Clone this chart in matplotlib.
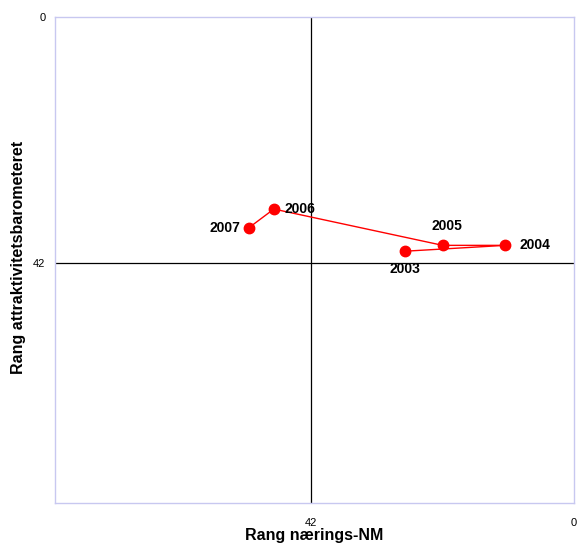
import matplotlib
matplotlib.use('Agg')
import matplotlib.pyplot as plt

plt.rcParams['font.family'] = ['Liberation Sans', 'DejaVu Sans']

years = ['2003', '2004', '2005', '2006', '2007']
rank_nm = [27, 11, 21, 48, 52]               # x: Rang nærings-NM
rank_attr = [40, 39, 39, 32.8, 36]           # y: Rang attraktivitetsbarometeret
# label offsets in points (dx, dy) and alignment
label_pos = {
    '2003': ((0, -13), 'center'),
    '2004': ((10, 0), 'left'),
    '2005': ((3, 14), 'center'),
    '2006': ((8, 0), 'left'),
    '2007': ((-6, 0), 'right'),
}

fig = plt.figure(figsize=(5.85, 5.43), dpi=100)
ax = fig.add_axes([0.094, 0.0737, 0.8872, 0.895])

ax.set_xlim(83, 0)
ax.set_ylim(83, 0)

ax.axhline(42, color='black', lw=0.9, zorder=1)
ax.axvline(42, color='black', lw=0.9, zorder=1)

ax.plot(rank_nm, rank_attr, color='red', lw=1, marker='o', markersize=7.5,
        markerfacecolor='red', markeredgecolor='red', zorder=3)

for x, y, yr in zip(rank_nm, rank_attr, years):
    off, ha = label_pos[yr]
    ax.annotate(yr, (x, y), xytext=off, textcoords='offset points',
                ha=ha, va='center', fontsize=10, fontweight='bold')

for s in ax.spines.values():
    s.set_color('#c8c8f0')
    s.set_linewidth(1)

ax.set_xticks([42, 0])
ax.set_yticks([0, 42])
ax.tick_params(axis='x', length=0, pad=11, labelsize=8)
ax.tick_params(axis='y', length=0, pad=7, labelsize=8)

ax.set_xlabel('Rang nærings-NM', fontsize=11.5, fontweight='bold', labelpad=0)
ax.set_ylabel('Rang attraktivitetsbarometeret', fontsize=11.5, fontweight='bold')
ax.yaxis.set_label_coords(-0.055, 0.505)

fig.savefig('out.png', dpi=100)
